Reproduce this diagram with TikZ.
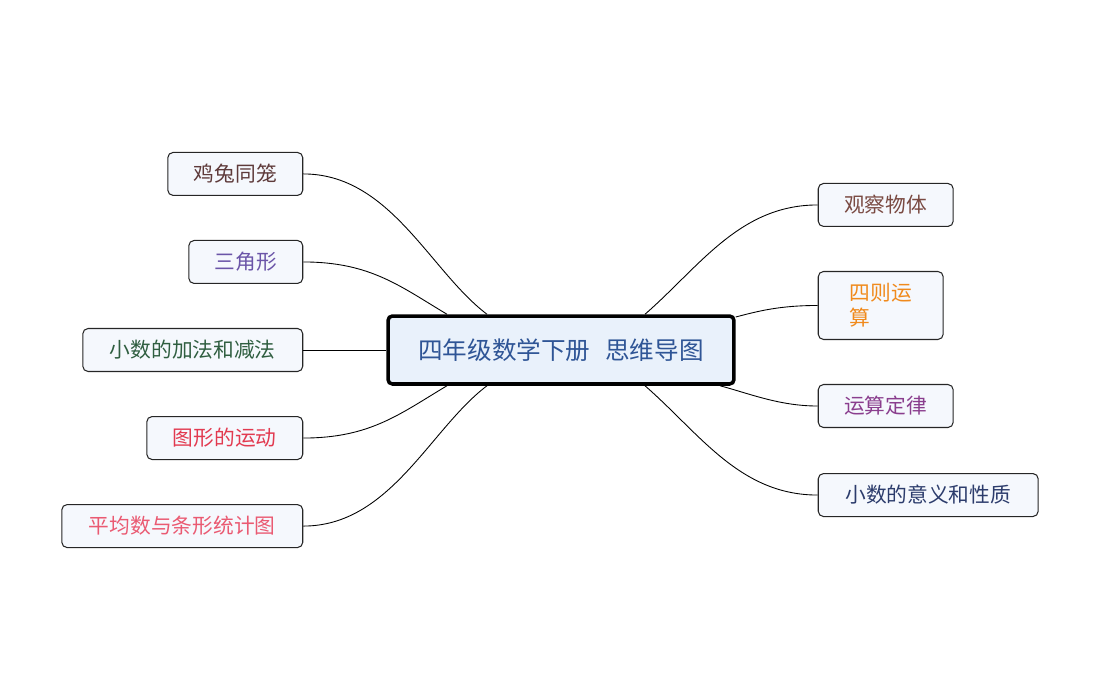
\documentclass[tikz,border=0pt]{standalone}
\usepackage{fontspec}
\setmainfont{Noto Sans CJK SC}
\usepackage{xcolor}
\usepackage{tikz}
\usetikzlibrary{positioning, calc}
\definecolor{rootblue}{HTML}{2F5596}
\definecolor{rootfill}{HTML}{E9F1FB}
\definecolor{leaffill}{HTML}{F5F8FD}
\definecolor{txtbrown}{HTML}{5E3A3A}
\definecolor{txtpurple}{HTML}{6B55A8}
\definecolor{txtgreen}{HTML}{2F5E40}
\definecolor{txtred}{HTML}{E23A50}
\definecolor{txtpink}{HTML}{EA5A72}
\definecolor{txtrust}{HTML}{7A4A42}
\definecolor{txtorange}{HTML}{F08A1C}
\definecolor{txtplum}{HTML}{8A3E8E}
\definecolor{txtnavy}{HTML}{2C3C6C}

\begin{document}
\begin{tikzpicture}[x=0.02cm, y=-0.02cm,
    root/.style={rectangle, rounded corners=2.5pt, draw=black, fill=rootfill,
                 line width=2pt, minimum width=6.92cm, minimum height=1.36cm,
                 align=center, text=rootblue, font=\fontsize{14}{16}\selectfont},
    leaf/.style={rectangle, rounded corners=3pt, draw=black!85, fill=leaffill,
                 line width=0.6pt, minimum height=0.86cm, align=center,
                 font=\fontsize{11.8}{14.2}\selectfont},
    branch/.style={black, line width=0.5pt}
]
    \useasboundingbox (0,0) rectangle (1100,700);

    % Root
    \node[root] (root) at (561,350) {四年级数学下册\hspace{0.6em}思维导图};
    \coordinate (rtl) at ($(root.north)+(-74,0)$);
    \coordinate (rtm) at ($(root.north)+(-114,0)$);
    \coordinate (rbl) at ($(root.south)+(-74,0)$);
    \coordinate (rbm) at ($(root.south)+(-114,0)$);
    \coordinate (rtr) at ($(root.north)+(84,0)$);
    \coordinate (rbr) at ($(root.south)+(84,0)$);
    \coordinate (rer) at ($(root.east)+(0,-33)$);
    \coordinate (rbe) at ($(root.south)+(159,0)$);

    % Left branches
    \node[leaf, minimum width=4.4cm, text=txtgreen, left=1.66cm of root] (n3) {小数的加法和减法};
    \node[leaf, minimum width=2.28cm, text=txtpurple, above left=0.88cm and 0cm of n3.north east] (n2) {三角形};
    \node[leaf, minimum width=2.7cm, text=txtbrown, above left=0.88cm and 0cm of n2.north east] (n1) {鸡兔同笼};
    \node[leaf, minimum width=3.12cm, text=txtred, below left=0.88cm and 0cm of n3.south east] (n4) {图形的运动};
    \node[leaf, minimum width=4.82cm, text=txtpink, below left=0.88cm and 0cm of n4.south east] (n5) {平均数与条形统计图};

    % Right branches
    \node[leaf, minimum width=2.7cm, text=txtplum, below right=0.68cm and 1.64cm of root.east] (r3) {运算定律};
    \node[leaf, minimum width=2.5cm, minimum height=1.36cm, align=left, text=txtorange,
          above right=0.88cm and 0cm of r3.north west] (r2) {四则运\\算\hspace{2.4em}};
    \node[leaf, minimum width=2.7cm, text=txtrust, above right=0.88cm and 0cm of r2.north west] (r1) {观察物体};
    \node[leaf, minimum width=4.4cm, text=txtnavy, below right=0.9cm and 0cm of r3.south west] (r4) {小数的意义和性质};

    % Connectors left
    \draw[branch] (rtl) .. controls +(-57,-43) and +(87,0) .. (n1.east);
    \draw[branch] (rtm) .. controls +(-47,-28) and +(67,0) .. (n2.east);
    \draw[branch] (root.west) -- (n3.east);
    \draw[branch] (rbm) .. controls +(-47,28) and +(67,0) .. (n4.east);
    \draw[branch] (rbl) .. controls +(-57,43) and +(87,0) .. (n5.east);

    % Connectors right
    \draw[branch] (rtr) .. controls +(55,-48) and +(-78,0) .. (r1.west);
    \draw[branch] (rer) .. controls +(23,-6) and +(-38,0) .. (r2.west);
    \draw[branch] (rbe) .. controls +(30,8) and +(-38,0) .. (r3.west);
    \draw[branch] (rbr) .. controls +(55,48) and +(-78,0) .. (r4.west);
\end{tikzpicture}
\end{document}
